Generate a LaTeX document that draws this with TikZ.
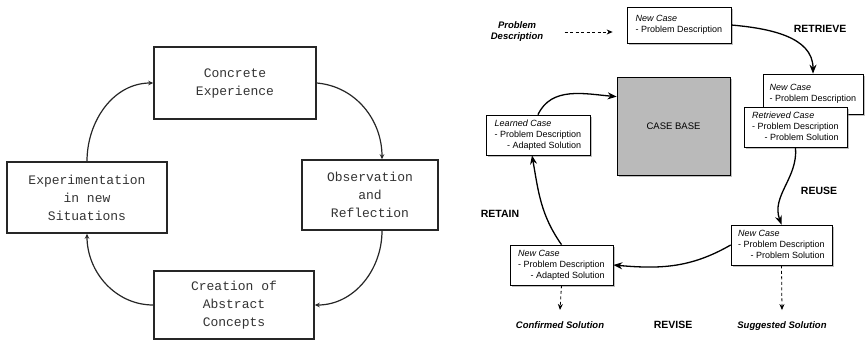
\documentclass[tikz,border=0pt]{standalone}
\usepackage{fontspec}
\setmainfont{Liberation Sans}
\setmonofont{Liberation Mono}
\usetikzlibrary{arrows.meta,shadows}
\newcommand{\casetext}[3]{\begin{tabular}{@{}l@{}}\textit{#1}\\- #2\\\hfill- #3\end{tabular}}
\newcommand{\newcasetext}{\begin{tabular}{@{}l@{}}\textit{New Case}\\- Problem Description\end{tabular}}

\begin{document}
\begin{tikzpicture}[x=1pt,y=-1pt,
  lbox/.style={draw=black!85,line width=1.5pt,align=center,text=black!80,font=\ttfamily\fontsize{13}{18}\selectfont},
  larr/.style={line width=1.2pt,black!85,-{Stealth[length=5pt,width=4.5pt]}},
  cbox/.style={draw,fill=white,line width=0.7pt,minimum width=103pt,minimum height=40pt,inner sep=3pt,
    font=\fontsize{9}{11}\selectfont,drop shadow={shadow xshift=2pt,shadow yshift=-2pt,opacity=0.5}},
  carr/.style={line width=1.3pt,-{Stealth[length=9pt,width=7pt]}},
  darr/.style={line width=0.8pt,dash pattern=on 3pt off 2.5pt,-{Stealth[length=6pt,width=5pt]}},
  phase/.style={font=\bfseries\fontsize{10.5}{12}\selectfont},
  note/.style={font=\bfseries\itshape\fontsize{9.5}{11}\selectfont,align=center}]
  \useasboundingbox (0,0) rectangle (865,341);

  \node[lbox,minimum width=162pt,minimum height=72pt] (ce) at (235,83) {Concrete\\Experience};
  \node[lbox,minimum width=136pt,minimum height=70pt] (obs) at (370,195) {Observation\\and\\Reflection};
  \node[lbox,minimum width=160pt,minimum height=68pt] (cac) at (234,305) {Creation of\\Abstract\\Concepts};
  \node[lbox,minimum width=160pt,minimum height=71pt] (exp) at (87,197.5) {Experimentation\\in new\\Situations};
  \draw[larr] (ce.east) to[out=-5,in=90] ([xshift=12pt]obs.north);
  \draw[larr] ([xshift=12pt]obs.south) to[out=-90,in=0] (cac.east);
  \draw[larr] (cac.west) to[out=180,in=-90] (exp.south);
  \draw[larr] (exp.north) to[out=90,in=180] (ce.west);

  \node[note] (pd) at (517,32) {Problem\\Description};
  \node[cbox,minimum width=104pt,minimum height=36pt] (nc1) at (679,25) {\newcasetext};
  \node[cbox,minimum width=100pt] (nc2) at (813,94) {\newcasetext};
  \node[cbox] (rc) at (795.5,127) {\casetext{Retrieved Case}{Problem Description}{Problem Solution}};
  \node[draw,fill=black!27,line width=0.7pt,minimum width=113pt,minimum height=98pt,
    font=\fontsize{9.5}{11}\selectfont,drop shadow={shadow xshift=2pt,shadow yshift=-2pt,opacity=0.5}] (cb) at (673.5,126) {CASE BASE};
  \node[cbox,minimum width=104pt] (lc) at (538,135) {\casetext{Learned Case}{Problem Description}{Adapted Solution}};
  \node[cbox,minimum width=101pt] (nc3) at (781.5,245) {\casetext{New Case}{Problem Description}{Problem Solution}};
  \node[cbox] (nc4) at (561.5,265) {\casetext{New Case}{Problem Description}{Adapted Solution}};

  \node[phase] (retrieve) at (820,29) {RETRIEVE};
  \node[phase] (reuse) at (819,191) {REUSE};
  \node[phase] (retain) at (500,214) {RETAIN};
  \node[phase] (revise) at (673,325) {REVISE};
  \node[note] (conf) at (560,325) {Confirmed Solution};
  \node[note] (sugg) at (782,326) {Suggested Solution};

  \draw[darr] ([xshift=18pt]pd.east) -- ([xshift=-14pt]pd.east -| nc1.west);
  \draw[carr] (nc1.east) to[out=-5,in=90] (nc2.north);
  \draw[carr] (rc.south) to[out=-85,in=110] (nc3.north);
  \draw[carr] (nc3.west) to[out=-150,in=-5] (nc4.east);
  \draw[carr] (nc4.north) to[out=125,in=-80] ([xshift=-6pt]lc.south);
  \draw[carr] (lc.north) to[out=65,in=175] ([yshift=-20pt]cb.north west);
  \draw[darr] (nc4.south) -- ([yshift=8pt]conf.north);
  \draw[darr] (nc3.south) -- ([yshift=8pt]sugg.north);
\end{tikzpicture}
\end{document}
